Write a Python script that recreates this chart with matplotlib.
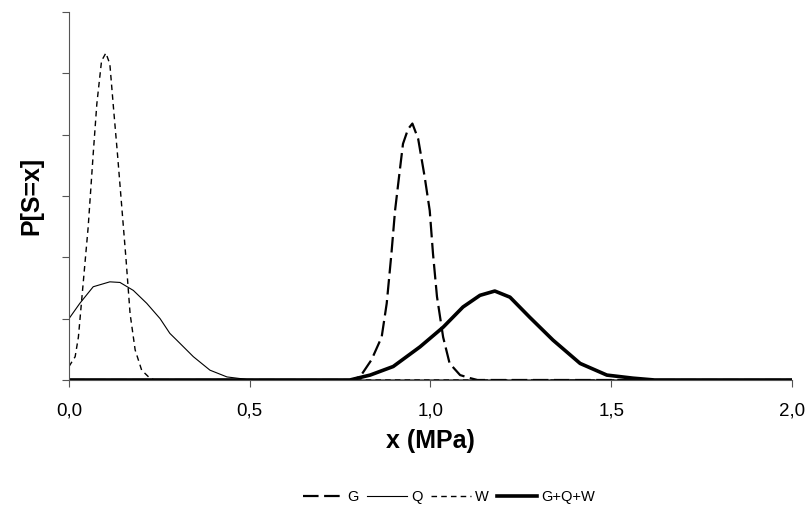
import matplotlib
matplotlib.use("Agg")
import matplotlib.pyplot as plt
from matplotlib.ticker import FuncFormatter, MultipleLocator

plt.rcParams['font.family'] = ['Liberation Sans', 'DejaVu Sans']

# ---- data (y in arbitrary units, 6 tick intervals) ----
g_x = [0.0, 0.78, 0.805, 0.837, 0.865, 0.879, 0.892, 0.902, 0.913, 0.924, 0.938,
       0.950, 0.966, 0.984, 0.998, 1.007, 1.018, 1.035, 1.053, 1.082, 1.11, 1.13, 2.0]
g_y = [0.0, 0.0, 0.05, 0.33, 0.70, 1.25, 2.06, 2.76, 3.31, 3.85, 4.09,
       4.18, 3.93, 3.31, 2.76, 2.06, 1.36, 0.70, 0.27, 0.08, 0.03, 0.0, 0.0]

q_x = [0.0, 0.03, 0.067, 0.113, 0.141, 0.178, 0.215, 0.252, 0.279, 0.298,
       0.344, 0.39, 0.437, 0.478, 0.50, 2.0]
q_y = [1.0, 1.25, 1.52, 1.6, 1.59, 1.46, 1.25, 1.0, 0.76, 0.65,
       0.38, 0.16, 0.05, 0.02, 0.0, 0.0]

w_x = [0.0, 0.017, 0.026, 0.040, 0.053, 0.067, 0.077, 0.09, 0.102, 0.113,
       0.123, 0.134, 0.146, 0.158, 0.169, 0.183, 0.201, 0.222, 0.236, 2.0]
w_y = [0.22, 0.38, 0.70, 1.63, 2.49, 3.69, 4.5, 5.2, 5.33, 5.15,
       4.44, 3.69, 2.82, 1.95, 1.08, 0.49, 0.16, 0.04, 0.0, 0.0]

s_x = [0.0, 0.777, 0.833, 0.897, 0.971, 1.035, 1.09, 1.137, 1.178, 1.22,
       1.275, 1.339, 1.414, 1.488, 1.56, 1.62, 2.0]
s_y = [0.0, 0.0, 0.08, 0.22, 0.54, 0.86, 1.19, 1.38, 1.45, 1.35,
       1.02, 0.65, 0.27, 0.08, 0.03, 0.0, 0.0]

labels = ["G", "Q", "W", "G+Q+W"]
x_ticks = [0.0, 0.5, 1.0, 1.5, 2.0]

fig = plt.figure(figsize=(8.08, 5.17), dpi=100)
ax = fig.add_axes([0.0854, 0.265, 0.8947, 0.712])

ax.plot(g_x, g_y, color='black', lw=1.6, dashes=(7, 2.5), label=labels[0])
ax.plot(q_x, q_y, color='black', lw=0.8, label=labels[1])
ax.plot(w_x, w_y, color='black', lw=1.0, dashes=(4, 3), label=labels[2])
ax.plot(s_x, s_y, color='black', lw=2.6, label=labels[3])

ax.set_xlim(0, 2.0)
ax.set_ylim(0, 6)
ax.set_xticks(x_ticks)
ax.xaxis.set_major_formatter(FuncFormatter(lambda v, p: f"{v:.1f}".replace('.', ',')))
ax.yaxis.set_major_locator(MultipleLocator(1))
ax.set_yticklabels([])
ax.tick_params(axis='both', direction='out', length=5, width=0.8, color='#555555')
ax.tick_params(axis='x', labelsize=13.5, pad=11)
for sp in ['top', 'right']:
    ax.spines[sp].set_visible(False)
ax.spines['left'].set_color('#555555')
ax.spines['bottom'].set_color('#555555')
ax.spines['left'].set_linewidth(0.8)

ax.set_xlabel("x (MPa)", fontsize=18, fontweight='bold', labelpad=7)
ax.set_ylabel("P[S=x]", fontsize=18, fontweight='bold', labelpad=10)

fig.legend(loc='lower center', bbox_to_anchor=(0.556, 0.0), ncol=4, frameon=False,
           fontsize=10.5, handlelength=2.7, columnspacing=0.6, handletextpad=0.3)

fig.savefig("out.png", dpi=100)
